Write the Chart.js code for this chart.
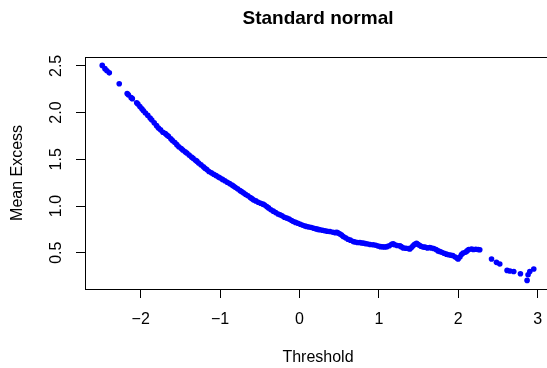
<!DOCTYPE html>
<html>
<head>
<meta charset="utf-8">
<script src="https://cdn.jsdelivr.net/npm/chart.js@4/dist/chart.umd.min.js"></script>
<style>
html,body{margin:0;padding:0;background:#fff;overflow:hidden;}
canvas{display:block;}
</style>
</head>
<body>
<canvas id="c" width="560" height="368"></canvas>
<script>
const chartTitle = 'Standard normal';
const xTitle = 'Threshold';
const yTitle = 'Mean Excess';
const xTicks = [-2, -1, 0, 1, 2, 3];
const yTicks = [0.5, 1.0, 1.5, 2.0, 2.5];
const xRange = [-2.701, 3.167];
const yRange = [0.112, 2.597];

const thresholds = [
-2.484,-2.45,-2.425,-2.395,-2.27,-2.17,-2.155,-2.12,-2.105,-2.05,
-2.035,-2.01,-1.985,-1.965,-1.94,-1.91,-1.881,-1.86,-1.83,-1.80,
-1.776,-1.75,-1.72,-1.69,-1.67,-1.65,-1.62,-1.60,-1.57,-1.545,
-1.52,-1.49,-1.47,-1.44,-1.419,-1.39,-1.36,-1.34,-1.31,-1.293,
-1.27,-1.24,-1.21,-1.19,-1.167,-1.14,-1.11,-1.08,-1.05,-1.02,
-1.00,-0.97,-0.94,-0.91,-0.88,-0.85,-0.833,-0.81,-0.78,-0.75,
-0.73,-0.707,-0.68,-0.65,-0.62,-0.60,-0.581,-0.55,-0.52,-0.49,
-0.46,-0.44,-0.413,-0.39,-0.36,-0.33,-0.30,-0.27,-0.245,-0.22,
-0.19,-0.16,-0.13,-0.10,-0.078,-0.05,-0.02,0.01,0.04,0.07,
0.091,0.12,0.15,0.18,0.21,0.235,0.258,0.29,0.32,0.35,
0.384,0.42,0.45,0.47,0.488,0.51,0.53,0.551,0.58,0.61,
0.64,0.677,0.70,0.73,0.76,0.78,0.803,0.83,0.86,0.89,
0.928,0.96,0.99,1.02,1.05,1.075,1.10,1.13,1.16,1.18,
1.20,1.23,1.264,1.28,1.306,1.34,1.37,1.39,1.41,1.43,
1.45,1.474,1.49,1.51,1.53,1.557,1.58,1.61,1.64,1.663,
1.69,1.72,1.745,1.767,1.79,1.82,1.85,1.872,1.90,1.93,
1.96,1.985,1.998,2.02,2.04,2.06,2.09,2.11,2.13,2.166,
2.19,2.22,2.25,2.27,2.418,2.48,2.522,2.614,2.65,2.698,
2.782,2.866,2.878,2.90,2.95
];
const meanExcess = [
2.505,2.47,2.448,2.425,2.309,2.205,2.19,2.16,2.149,2.105,
2.092,2.065,2.04,2.02,1.995,1.97,1.942,1.92,1.89,1.86,
1.835,1.815,1.79,1.775,1.76,1.747,1.72,1.70,1.68,1.657,
1.635,1.615,1.60,1.58,1.568,1.545,1.525,1.51,1.49,1.48,
1.46,1.44,1.42,1.405,1.39,1.37,1.355,1.34,1.325,1.31,
1.30,1.285,1.27,1.255,1.24,1.225,1.213,1.20,1.185,1.165,
1.155,1.141,1.125,1.11,1.09,1.08,1.066,1.055,1.04,1.03,
1.02,1.01,0.995,0.98,0.96,0.945,0.93,0.915,0.906,0.895,
0.88,0.87,0.86,0.845,0.834,0.825,0.815,0.805,0.795,0.786,
0.781,0.775,0.77,0.762,0.755,0.75,0.746,0.74,0.735,0.73,
0.728,0.72,0.715,0.72,0.71,0.70,0.69,0.674,0.66,0.645,
0.635,0.621,0.615,0.61,0.61,0.605,0.603,0.598,0.593,0.588,
0.585,0.58,0.572,0.565,0.563,0.561,0.565,0.575,0.59,0.595,
0.585,0.578,0.575,0.565,0.552,0.548,0.545,0.54,0.555,0.575,
0.59,0.60,0.59,0.58,0.57,0.561,0.56,0.552,0.555,0.55,
0.545,0.535,0.52,0.514,0.505,0.495,0.485,0.479,0.475,0.47,
0.455,0.44,0.433,0.455,0.48,0.497,0.505,0.52,0.535,0.54,
0.535,0.538,0.535,0.532,0.433,0.397,0.379,0.311,0.305,0.30,
0.276,0.204,0.265,0.30,0.326
];

const FONT = "'Liberation Sans', Arial, Helvetica, sans-serif";

const boxPlugin = {
  id: 'rbox',
  afterDraw(chart) {
    const {ctx, chartArea: a} = chart;
    ctx.save();
    ctx.strokeStyle = '#000';
    ctx.lineWidth = 1;
    ctx.strokeRect(Math.round(a.left) + 0.5, Math.round(a.top) + 0.5,
                   Math.round(a.right - a.left), Math.round(a.bottom - a.top));
    ctx.restore();
  }
};

new Chart(document.getElementById('c'), {
  type: 'scatter',
  data: {
    datasets: [{
      data: thresholds.map((x, i) => ({x: x, y: meanExcess[i]})),
      backgroundColor: '#0000FF',
      borderWidth: 0,
      pointRadius: 2.8,
      pointHoverRadius: 2.8
    }]
  },
  plugins: [boxPlugin],
  options: {
    responsive: false,
    devicePixelRatio: 1,
    animation: false,
    layout: {padding: {top: 0, right: 9, bottom: 0, left: 0}},
    plugins: {
      legend: {display: false},
      tooltip: {enabled: false},
      title: {
        display: true,
        fullSize: false,
        text: chartTitle,
        color: '#000',
        font: {family: FONT, size: 19, weight: 'bold'},
        padding: {top: 7, bottom: 27}
      }
    },
    scales: {
      x: {
        type: 'linear',
        min: xRange[0],
        max: xRange[1],
        afterBuildTicks(s) { s.ticks = xTicks.map(v => ({value: v})); },
        afterFit(s) { s.height = 79; },
        border: {display: false},
        grid: {drawOnChartArea: false, drawTicks: true, tickLength: 9, color: '#000', lineWidth: 1},
        ticks: {
          color: '#000',
          font: {family: FONT, size: 16},
          padding: 12,
          maxRotation: 0,
          autoSkip: false,
          callback: v => (v < 0 ? '\u2212' + Math.abs(v) : String(v))
        },
        title: {
          display: true,
          text: xTitle,
          color: '#000',
          font: {family: FONT, size: 16},
          padding: {top: 0, bottom: 1}
        }
      },
      y: {
        type: 'linear',
        min: yRange[0],
        max: yRange[1],
        afterBuildTicks(s) { s.ticks = yTicks.map(v => ({value: v})); },
        afterFit(s) { s.width = 85; },
        border: {display: false},
        grid: {drawOnChartArea: false, drawTicks: true, tickLength: 9, color: '#000', lineWidth: 1},
        ticks: {
          color: '#000',
          font: {family: FONT, size: 16},
          padding: 8,
          minRotation: 90,
          maxRotation: 90,
          crossAlign: 'center',
          autoSkip: false,
          callback: v => Number(v).toFixed(1)
        },
        title: {
          display: true,
          text: yTitle,
          color: '#000',
          font: {family: FONT, size: 16},
          padding: {top: 8, bottom: 0}
        }
      }
    }
  }
});
</script>
</body>
</html>
